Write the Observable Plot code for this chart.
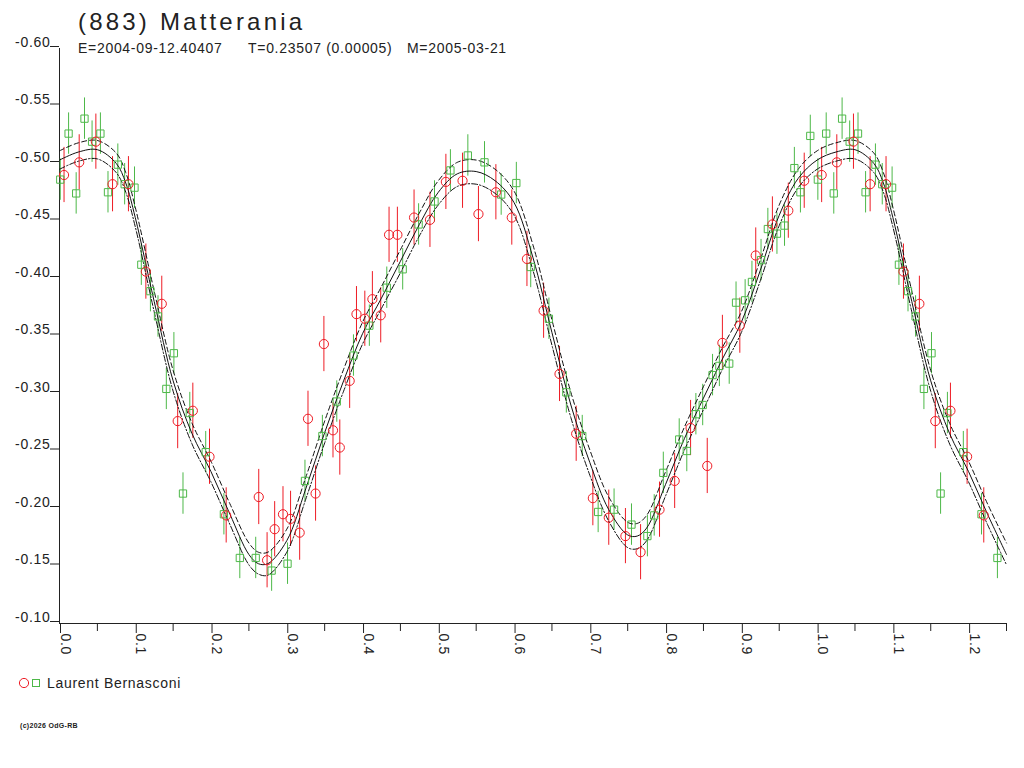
<!DOCTYPE html>
<html>
<head>
<meta charset="utf-8">
<script src="https://cdn.jsdelivr.net/npm/d3@7"></script>
<script src="https://cdn.jsdelivr.net/npm/@observablehq/plot@0.6"></script>
<style>
  html, body { margin: 0; padding: 0; background: #fff; }
  #page { position: relative; width: 1024px; height: 768px; overflow: hidden;
          font-family: "Liberation Sans", Arial, sans-serif; color: #222; }
  #page > svg { position: absolute; left: 0; top: 26px; }
  .abs { position: absolute; white-space: pre; line-height: 1; }
  #title { left: 78px; top: 10px; font-size: 24px; letter-spacing: 3.2px; }
  .sub { top: 41px; font-size: 14px; letter-spacing: 0.7px; }
  #legend { left: 18px; top: 676px; font-size: 14px; letter-spacing: 0.7px; display: flex; align-items: center; }
  #legend svg { display: block; margin-right: 3px; }
  #footer { left: 20px; top: 722px; font-size: 7px; font-weight: bold; letter-spacing: 0.3px; }
</style>
</head>
<body>
<div id="page"></div>
<script>
// ---- data ----
const greenPhase = [0.001,0.012,0.022,0.033,0.043,0.054,0.064,0.077,0.086,0.099,0.108,0.120,0.130,0.141,0.151,0.163,0.172,0.193,0.217,0.238,0.259,0.280,0.301,0.324,0.347,0.366,0.388,0.409,0.432,0.453,0.474,0.495,0.516,0.539,0.561,0.583,0.603,0.622,0.646,0.669,0.690,0.711,0.732,0.755,0.776,0.785,0.797,0.818,0.828,0.840,0.849,0.862,0.871,0.884,0.893,0.905,0.914,0.926,0.935,0.947,0.957,0.970,0.978,0.991];
const greenMag   = [-0.486,-0.526,-0.474,-0.539,-0.519,-0.526,-0.475,-0.499,-0.482,-0.479,-0.412,-0.389,-0.367,-0.304,-0.335,-0.213,-0.283,-0.249,-0.195,-0.157,-0.157,-0.146,-0.152,-0.224,-0.263,-0.293,-0.333,-0.359,-0.392,-0.408,-0.447,-0.467,-0.494,-0.507,-0.501,-0.473,-0.483,-0.410,-0.365,-0.301,-0.263,-0.197,-0.199,-0.186,-0.176,-0.194,-0.231,-0.260,-0.250,-0.282,-0.290,-0.316,-0.324,-0.326,-0.379,-0.381,-0.397,-0.416,-0.443,-0.439,-0.446,-0.496,-0.475,-0.524];
const greenErr = 0.018;

const redPhase = [0.006,0.026,0.048,0.070,0.091,0.114,0.135,0.156,0.176,0.198,0.220,0.263,0.274,0.284,0.295,0.305,0.317,0.328,0.338,0.349,0.361,0.370,0.383,0.392,0.403,0.413,0.424,0.435,0.446,0.468,0.489,0.510,0.532,0.553,0.576,0.597,0.617,0.639,0.660,0.682,0.704,0.725,0.747,0.767,0.792,0.812,0.833,0.855,0.875,0.898,0.919,0.941,0.962,0.983];
const redMag   = [-0.490,-0.501,-0.519,-0.482,-0.482,-0.406,-0.378,-0.276,-0.285,-0.245,-0.194,-0.210,-0.155,-0.182,-0.195,-0.191,-0.179,-0.278,-0.213,-0.343,-0.268,-0.253,-0.311,-0.369,-0.365,-0.382,-0.368,-0.438,-0.438,-0.453,-0.451,-0.484,-0.485,-0.456,-0.475,-0.453,-0.417,-0.372,-0.317,-0.265,-0.209,-0.192,-0.176,-0.162,-0.199,-0.224,-0.270,-0.237,-0.344,-0.359,-0.420,-0.447,-0.459,-0.485];
const redErr = 0.024;

// fitted curve samples (solid), and the two bounding curves (dashed, dash-dot)
const curvePhase = [0,0.025,0.05,0.075,0.0875,0.1,0.125,0.15,0.175,0.2,0.225,0.25,0.2625,0.275,0.3,0.325,0.35,0.375,0.4,0.425,0.45,0.475,0.5,0.525,0.55,0.575,0.6,0.625,0.65,0.675,0.7,0.725,0.75,0.7625,0.775,0.8,0.825,0.85,0.875,0.9,0.925,0.95,0.975,1.0];
const curveSolid = [-0.503,-0.510,-0.512,-0.500,-0.483,-0.453,-0.380,-0.311,-0.265,-0.232,-0.195,-0.160,-0.152,-0.152,-0.172,-0.217,-0.266,-0.311,-0.352,-0.383,-0.415,-0.447,-0.475,-0.491,-0.493,-0.485,-0.466,-0.418,-0.353,-0.290,-0.240,-0.199,-0.177,-0.176,-0.183,-0.221,-0.261,-0.296,-0.330,-0.362,-0.407,-0.455,-0.487,-0.503];
const curveUpper = [-0.511,-0.518,-0.520,-0.509,-0.492,-0.462,-0.389,-0.320,-0.274,-0.241,-0.204,-0.170,-0.162,-0.162,-0.182,-0.227,-0.276,-0.321,-0.362,-0.393,-0.425,-0.457,-0.485,-0.501,-0.503,-0.495,-0.476,-0.429,-0.364,-0.301,-0.251,-0.210,-0.188,-0.187,-0.194,-0.232,-0.271,-0.306,-0.340,-0.371,-0.416,-0.464,-0.495,-0.511];
const curveLower = [-0.495,-0.502,-0.504,-0.492,-0.475,-0.445,-0.371,-0.302,-0.256,-0.223,-0.186,-0.151,-0.143,-0.142,-0.162,-0.208,-0.257,-0.302,-0.343,-0.374,-0.405,-0.437,-0.464,-0.480,-0.482,-0.474,-0.455,-0.407,-0.342,-0.279,-0.229,-0.189,-0.166,-0.165,-0.172,-0.211,-0.251,-0.286,-0.321,-0.353,-0.398,-0.446,-0.479,-0.495];

const xMajorTicks = [0,0.1,0.2,0.3,0.4,0.5,0.6,0.7,0.8,0.9,1.0,1.1,1.2];
const xMinorTicks = [0.05,0.15,0.25,0.35,0.45,0.55,0.65,0.75,0.85,0.95,1.05,1.15,1.25];
const yTicks = [-0.60,-0.55,-0.50,-0.45,-0.40,-0.35,-0.30,-0.25,-0.20,-0.15,-0.10];

const maxPhase = 1.25;
const redColor = "#ee1c25";
const greenColor = "#4db848";

// ---- build tables (phase-wrapped repeat beyond 1.0) ----
function wrap(rows) {
  const extra = rows.filter(d => d.phase + 1 <= maxPhase && d.phase > 0).map(d => ({...d, phase: d.phase + 1}));
  return rows.concat(extra);
}
const green = wrap(greenPhase.map((p, i) => ({phase: p, mag: greenMag[i]})));
const red = wrap(redPhase.map((p, i) => ({phase: p, mag: redMag[i]})));
const curve = wrap(curvePhase.map((p, i) => ({phase: p, solid: curveSolid[i], upper: curveUpper[i], lower: curveLower[i]})))
  .sort((a, b) => a.phase - b.phase);

const chart = Plot.plot({
  width: 1024,
  height: 637,
  marginTop: 22,
  marginLeft: 59,
  marginRight: 18,
  marginBottom: 40,
  style: {fontFamily: "'Liberation Sans', Arial, sans-serif", fontSize: "14px", letterSpacing: "0.7px", color: "#222", background: "white", overflow: "visible"},
  x: {domain: [0, maxPhase], label: null},
  y: {domain: [-0.60, -0.10], reverse: true, label: null},
  marks: [
    Plot.ruleX([0], {stroke: "#222"}),
    Plot.ruleY([-0.10], {stroke: "#222"}),
    Plot.axisY({ticks: yTicks, label: null, tickSize: 9, tickPadding: 0, tickFormat: d => d.toFixed(2), textAnchor: "end", lineAnchor: "bottom", dy: -2, stroke: "#222", fill: "#222"}),
    Plot.axisX({ticks: xMinorTicks, label: null, tickSize: 8, tickFormat: () => "", stroke: "#222"}),
    Plot.axisX({ticks: xMajorTicks, label: null, tickSize: 10, tickPadding: 0, tickRotate: 90, textAnchor: "start", lineAnchor: "bottom", dx: 1, tickFormat: d => d.toFixed(1), stroke: "#222", fill: "#222"}),
    Plot.ruleX(green, {x: "phase", y1: d => d.mag - greenErr, y2: d => d.mag + greenErr, stroke: greenColor, strokeWidth: 1}),
    Plot.ruleX(red, {x: "phase", y1: d => d.mag - redErr, y2: d => d.mag + redErr, stroke: redColor, strokeWidth: 1}),
    Plot.line(curve, {x: "phase", y: "upper", stroke: "#111", strokeWidth: 1, strokeDasharray: "5,3", curve: "catmull-rom"}),
    Plot.line(curve, {x: "phase", y: "lower", stroke: "#111", strokeWidth: 1, strokeDasharray: "6,2,1.5,2", curve: "catmull-rom"}),
    Plot.line(curve, {x: "phase", y: "solid", stroke: "#111", strokeWidth: 1, curve: "catmull-rom"}),
    Plot.dot(green, {x: "phase", y: "mag", symbol: "square", r: 4.1, stroke: greenColor, fill: "none", strokeWidth: 1}),
    Plot.dot(red, {x: "phase", y: "mag", symbol: "circle", r: 4.6, stroke: redColor, fill: "none", strokeWidth: 1})
  ]
});

const page = document.getElementById("page");
page.appendChild(chart);

const title = document.createElement("div");
title.id = "title"; title.className = "abs"; title.textContent = "(883) Matterania";
page.appendChild(title);

const subs = [["E=2004-09-12.40407", 78], ["T=0.23507 (0.00005)", 248], ["M=2005-03-21", 407]];
for (const [t, left] of subs) {
  const s = document.createElement("div");
  s.className = "abs sub"; s.style.left = left + "px"; s.textContent = t;
  page.appendChild(s);
}

const legend = document.createElement("div");
legend.id = "legend"; legend.className = "abs";
legend.innerHTML = `<svg width="26" height="14" viewBox="0 0 26 14"><circle cx="6" cy="7" r="4.6" fill="none" stroke="${redColor}"/><rect x="14.5" y="3.5" width="7" height="7" fill="none" stroke="${greenColor}"/></svg><span>Laurent Bernasconi</span>`;
page.appendChild(legend);

const footer = document.createElement("div");
footer.id = "footer"; footer.className = "abs"; footer.textContent = "(c)2026 OdG-RB";
page.appendChild(footer);
</script>
</body>
</html>
